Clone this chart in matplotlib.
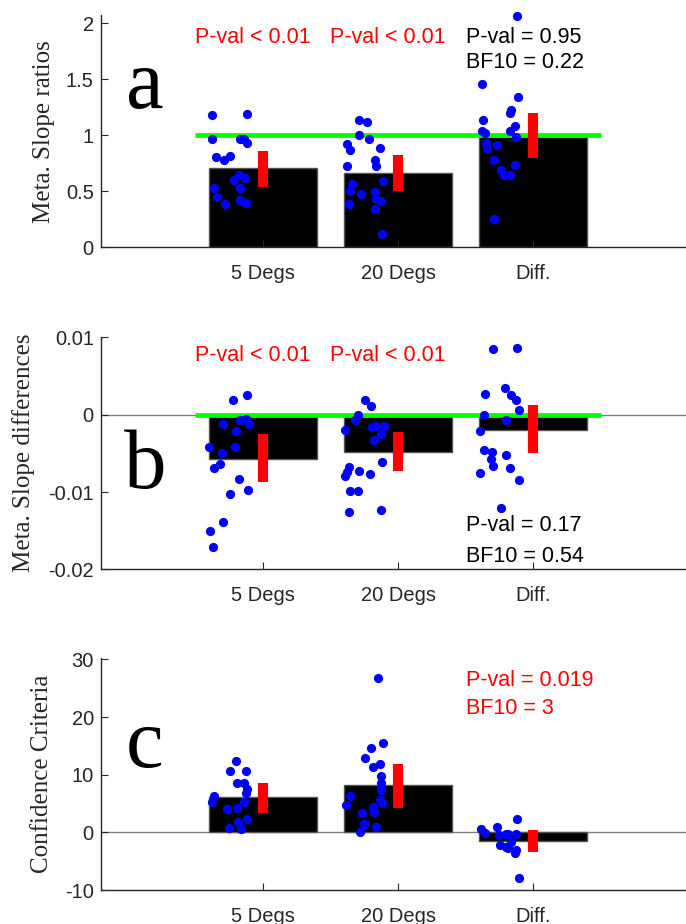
import matplotlib
matplotlib.use("Agg")
import matplotlib.pyplot as plt
import numpy as np

plt.rcParams['axes.unicode_minus'] = False

categories = ["5 Degs", "20 Degs", "Diff."]

# ---------------- Panel a: Meta. Slope ratios ----------------
a_bars = [0.704, 0.668, 0.981]
a_err_lo = [0.539, 0.502, 0.794]
a_err_hi = [0.859, 0.820, 1.200]
a_ref = 1.0
a5_vals = [1.184, 1.19, 0.963, 0.963, 0.966, 0.936, 0.805, 0.784, 0.814, 0.602,
           0.647, 0.623, 0.528, 0.528, 0.453, 0.387, 0.423, 0.393]
a5_jit = [-0.38, -0.117, -0.38, -0.17, -0.14, -0.114, -0.35, -0.29, -0.24, -0.215,
          -0.176, -0.133, -0.36, -0.17, -0.34, -0.28, -0.17, -0.127]
a20_vals = [1.133, 1.115, 1.005, 0.966, 0.924, 0.865, 0.886, 0.778, 0.722, 0.730,
            0.567, 0.507, 0.477, 0.593, 0.492, 0.432, 0.414, 0.340, 0.388, 0.119]
a20_jit = [-0.29, -0.233, -0.29, -0.217, -0.38, -0.356, -0.136, -0.172, -0.162, -0.38,
           -0.34, -0.356, -0.275, -0.11, -0.172, -0.162, -0.13, -0.172, -0.366, -0.117]
aD_vals = [2.069, 1.458, 1.345, 1.228, 1.204, 1.139, 1.085, 1.041, 1.020, 1.041,
           0.981, 0.930, 0.915, 0.886, 0.781, 0.736, 0.692, 0.647, 0.647, 0.253]
aD_jit = [-0.117, -0.38, -0.11, -0.168, -0.175, -0.37, -0.136, -0.376, -0.36, -0.175,
          -0.126, -0.353, -0.27, -0.343, -0.288, -0.133, -0.24, -0.217, -0.175, -0.288]

# ---------------- Panel b: Meta. Slope differences ----------------
b_bars = [-0.0057, -0.00484, -0.00194]
b_err_lo = [-0.00873, -0.0073, -0.00495]
b_err_hi = [-0.00255, -0.00229, 0.00121]
b_ref = 0.0
b5_vals = [0.00259, 0.00186, -0.00065, -0.00052, -0.00117, -0.00125, -0.00216, -0.00419,
           -0.00419, -0.00492, -0.00635, -0.00691, -0.00829, -0.00968, -0.01024, -0.01382,
           -0.01499, -0.01706]
b5_jit = [-0.117, -0.224, -0.172, -0.126, -0.1, -0.298, -0.2, -0.4,
          -0.207, -0.301, -0.318, -0.36, -0.175, -0.107, -0.243, -0.298,
          -0.392, -0.366]
b20_vals = [0.00186, 0.00108, 0.0, -0.00073, -0.00203, -0.0016, -0.00151, -0.00151,
            -0.00255, -0.00324, -0.00613, -0.00678, -0.00743, -0.00799, -0.0073, -0.00765,
            -0.00981, -0.00981, -0.01253, -0.01231]
b20_jit = [-0.243, -0.2, -0.30, -0.318, -0.395, -0.194, -0.104, -0.162,
           -0.123, -0.175, -0.117, -0.366, -0.38, -0.39, -0.29, -0.21,
           -0.356, -0.298, -0.366, -0.123]
bD_vals = [0.00847, 0.00864, 0.00272, 0.00346, 0.00251, 0.00186, 0.00056, -0.00009,
           -0.00065, -0.00216, -0.00462, -0.00484, -0.0057, -0.00665, -0.00527, -0.00687,
           -0.00752, -0.00838, -0.0121]
bD_jit = [-0.298, -0.117, -0.356, -0.207, -0.168, -0.126, -0.104, -0.363,
          -0.2, -0.395, -0.363, -0.305, -0.314, -0.298, -0.2, -0.175,
          -0.392, -0.104, -0.24]

# ---------------- Panel c: Confidence Criteria ----------------
c_bars = [6.07, 8.15, -1.50]
c_err_lo = [3.41, 4.28, -3.35]
c_err_hi = [8.55, 11.84, 0.40]
c5_vals = [12.36, 10.69, 10.69, 8.61, 8.49, 7.45, 6.87, 6.30, 5.26, 5.20,
           4.10, 4.16, 2.31, 1.85, 0.81, 0.58]
c5_jit = [-0.198, -0.243, -0.123, -0.188, -0.139, -0.117, -0.123, -0.36, -0.38, -0.139,
          -0.269, -0.188, -0.117, -0.181, -0.253, -0.165]
c20_vals = [26.75, 15.42, 14.67, 12.94, 11.84, 11.38, 9.82, 8.49, 7.34, 6.35,
            5.60, 5.14, 4.74, 4.45, 3.58, 3.29, 1.39, 0.98, 0.0]
c20_jit = [-0.152, -0.11, -0.2, -0.243, -0.136, -0.188, -0.123, -0.123, -0.123, -0.356,
           -0.136, -0.117, -0.382, -0.188, -0.178, -0.266, -0.253, -0.162, -0.285]
cD_vals = [0.52, -0.17, 0.85, -0.47, 2.25, -0.2, -0.3, -2.2, -2.77, -3.07,
           -3.53, -7.87, -1.63, -0.35, -2.5]
cD_jit = [-0.383, -0.354, -0.268, -0.253, -0.12, -0.186, -0.124, -0.248, -0.186, -0.124,
          -0.137, -0.109, -0.161, -0.2, -0.2]

# ---------------- styling ----------------
W, H = 686, 924
fig = plt.figure(figsize=(W / 100, H / 100), dpi=100)

AX_COL = '#262626'
TICK_FONT = 'Liberation Sans'
SERIF = 'Liberation Serif'
x = np.arange(1, 4)

def px_box(top, bottom, left=100.7, right=686):
    return [left / W, 1 - bottom / H, (right - left) / W, (bottom - top) / H]

def panel(box, bars, lo, hi, pts, ylim, yticks, yticklabels, ylabel, ylabel_x,
          ref=None, zero_line=False):
    ax = fig.add_axes(box)
    ax.set_xlim(-0.2, 4.13)
    ax.set_ylim(*ylim)
    ax.bar(x, bars, width=0.8, color='black', edgecolor='#555555', linewidth=1.0, zorder=2)
    if zero_line:
        ax.axhline(0, color='#808080', lw=1.0, zorder=1.5)
    if ref is not None:
        ax.hlines(ref, 0.5, 3.5, color='#00ff00', lw=3.4, zorder=3)
    for i, (vals, jit) in enumerate(pts):
        ax.scatter(x[i] + np.array(jit), vals, s=44, color='#0000ff', linewidths=0,
                   zorder=4, clip_on=False)
    ax.vlines(x, lo, hi, color='#ff0000', lw=7.3, capstyle='butt', zorder=5)
    for s in ['top', 'right']:
        ax.spines[s].set_visible(False)
    for s in ['left', 'bottom']:
        ax.spines[s].set_color(AX_COL)
        ax.spines[s].set_linewidth(1.0)
        ax.spines[s].set_zorder(6)
    ax.set_axisbelow(False)
    ax.set_xticks(x)
    ax.set_xticklabels(categories, fontname=TICK_FONT, fontsize=14.5, color=AX_COL)
    ax.set_yticks(yticks)
    ax.set_yticklabels(yticklabels, fontname=TICK_FONT, fontsize=14.5, color=AX_COL)
    ax.tick_params(axis='both', direction='in', length=5, width=0.8, color=AX_COL)
    ax.tick_params(axis='x', pad=12)
    ax.tick_params(axis='y', pad=5)
    ax.set_ylabel(ylabel, fontname=SERIF, fontsize=18, color=AX_COL, va='center')
    ax.yaxis.set_label_coords(ylabel_x / W, box[1] + box[3] / 2, transform=fig.transFigure)
    return ax

ann_font = dict(fontname=TICK_FONT, fontsize=15.5, va='baseline', ha='left')

# Panel a
ax_a = panel(px_box(15, 247.3), a_bars, a_err_lo, a_err_hi,
             [(a5_vals, a5_jit), (a20_vals, a20_jit), (aD_vals, aD_jit)],
             (0, 2.075), [0, 0.5, 1, 1.5, 2], ['0', '0.5', '1', '1.5', '2'],
             'Meta. Slope ratios', 44, ref=a_ref)
ax_a.text(0.5, 1.822, 'P-val < 0.01', color='#ff0000', **ann_font)
ax_a.text(1.5, 1.822, 'P-val < 0.01', color='#ff0000', **ann_font)
ax_a.text(2.5, 1.822, 'P-val = 0.95', color='black', **ann_font)
ax_a.text(2.5, 1.598, 'BF10 = 0.22', color='black', **ann_font)

# Panel b
ax_b = panel(px_box(336.7, 569.3), b_bars, b_err_lo, b_err_hi,
             [(b5_vals, b5_jit), (b20_vals, b20_jit), (bD_vals, bD_jit)],
             (-0.02, 0.0101), [-0.02, -0.01, 0, 0.01], ['-0.02', '-0.01', '0', '0.01'],
             'Meta. Slope differences', 24, ref=b_ref, zero_line=True)
ax_b.text(0.5, 0.0069, 'P-val < 0.01', color='#ff0000', **ann_font)
ax_b.text(1.5, 0.0069, 'P-val < 0.01', color='#ff0000', **ann_font)
ax_b.text(2.5, -0.01508, 'P-val = 0.17', color='black', **ann_font)
ax_b.text(2.5, -0.01909, 'BF10 = 0.54', color='black', **ann_font)

# Panel c
ax_c = panel(px_box(658.3, 890), c_bars, c_err_lo, c_err_hi,
             [(c5_vals, c5_jit), (c20_vals, c20_jit), (cD_vals, cD_jit)],
             (-10, 30.2), [-10, 0, 10, 20, 30], ['-10', '0', '10', '20', '30'],
             'Confidence Criteria', 42, zero_line=True)
ax_c.text(2.5, 25.36, 'P-val = 0.019', color='#ff0000', **ann_font)
ax_c.text(2.5, 20.45, 'BF10 = 3', color='#ff0000', **ann_font)

# Panel letters
for letter, bx, by in [('a', 126, 108), ('b', 124, 488), ('c', 126, 767)]:
    fig.text(bx / W, 1 - by / H, letter, fontname=SERIF, fontsize=61,
             color='black', ha='left', va='baseline')

fig.savefig('out.png', dpi=100)
